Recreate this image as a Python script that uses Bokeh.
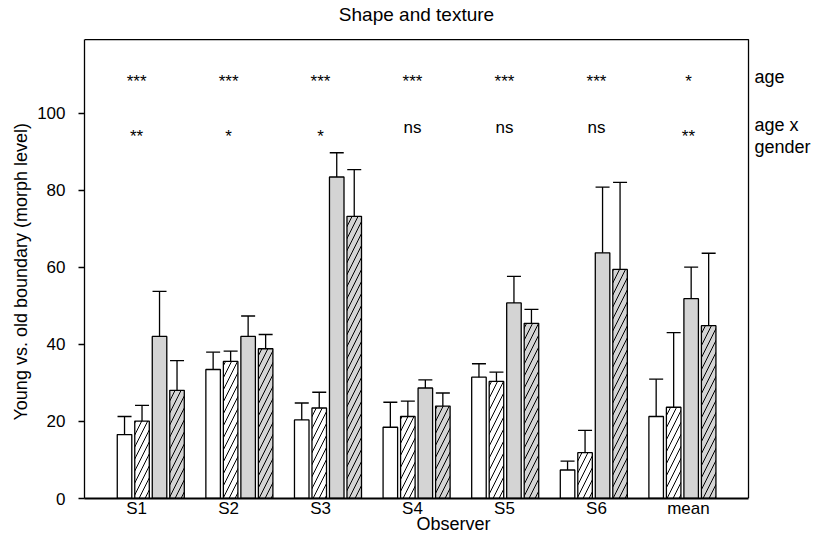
import numpy as np
from bokeh.plotting import figure
from bokeh.models import Range1d, FixedTicker, ColumnDataSource, Title
from bokeh.core.properties import value
from bokeh.embed import file_html
from bokeh.resources import INLINE

# ---------------- data ----------------
observers = ["S1", "S2", "S3", "S4", "S5", "S6", "mean"]

open_mean = [16.6, 33.5, 20.4, 18.5, 31.5, 7.4, 21.3]
open_err = [4.7, 4.5, 4.4, 6.5, 3.5, 2.3, 9.7]

open_hatch_mean = [20.1, 35.6, 23.5, 21.3, 30.4, 11.9, 23.7]
open_hatch_err = [4.1, 2.7, 4.1, 4.0, 2.4, 5.8, 19.4]

grey_mean = [42.1, 42.1, 83.5, 28.7, 50.8, 63.8, 51.9]
grey_err = [11.7, 5.3, 6.3, 2.1, 6.9, 17.1, 8.2]

grey_hatch_mean = [28.1, 38.9, 73.3, 24.0, 45.5, 59.5, 44.9]
grey_hatch_err = [7.7, 3.7, 12.1, 3.4, 3.6, 22.6, 18.8]

age_sig = ["***", "***", "***", "***", "***", "***", "*"]
age_gender_sig = ["**", "*", "*", "ns", "ns", "ns", "**"]
side_labels = ["age", "age x", "gender"]
title_text = "Shape and texture"
y_label = "Young vs. old boundary (morph level)"
x_label = "Observer"

y_ticks = [0, 20, 40, 60, 80, 100]

# ---------------- layout / style ----------------
FONT = "Liberation Sans"
GREY = "#d4d4d4"
n = len(observers)
group_pos = np.arange(1, n + 1, dtype=float)
BAR_W = 0.164
CAP_W = 0.158
STEP = 0.1975
offsets = np.array([-1.5, -0.5, 0.5, 1.5]) * STEP
label_pos = [round(0.84 + 1.038 * i, 4) for i in range(n)]

X0, X1 = 0.252, 7.746      # visible box in x
Y1 = 119.2                 # visible box top
X_END = 8.581              # frame extends to canvas edges (room for texts)
Y_END = 129.35

p = figure(width=822, height=544,
           x_range=Range1d(X0, X_END), y_range=Range1d(0, Y_END),
           output_backend="svg", toolbar_location=None,
           min_border_left=84, min_border_right=0,
           min_border_top=0, min_border_bottom=46)
p.grid.visible = False
p.outline_line_color = None
p.background_fill_color = "white"
p.border_fill_color = "white"

series = [
    (open_mean, open_err, "white", None),
    (open_hatch_mean, open_hatch_err, "white", "/"),
    (grey_mean, grey_err, GREY, None),
    (grey_hatch_mean, grey_hatch_err, GREY, "/"),
]

for k, (m, e, fill, hatch) in enumerate(series):
    xs = group_pos + offsets[k]
    m = np.array(m)
    etop = m + np.array(e)
    src = ColumnDataSource(dict(x=xs, top=m, etop=etop,
                                x0=xs - CAP_W / 2, x1=xs + CAP_W / 2))
    kw = dict(x="x", top="top", bottom=0, width=BAR_W, source=src,
              fill_color=fill, line_color="black", line_width=1.3)
    if hatch:
        kw.update(hatch_pattern=hatch, hatch_color="black",
                  hatch_weight=1.0, hatch_scale=12)
    p.vbar(**kw)
    p.segment(x0="x", y0="top", x1="x", y1="etop", source=src,
              line_color="black", line_width=1.3)
    p.segment(x0="x0", y0="etop", x1="x1", y1="etop", source=src,
              line_color="black", line_width=1.3)

# box: top and right edges
p.line(x=[X0, X1, X1], y=[Y1, Y1, 0], line_color="black", line_width=1.3)

# title
p.text(x=[(X0 + X1) / 2], y=[125.7], text=[title_text],
       text_font=value(FONT), text_font_size="19px",
       text_align="center", text_baseline="middle", text_color="black")

# significance annotations
p.text(x=label_pos, y=[108.3] * n, text=age_sig,
       text_font=value(FONT), text_font_size="17px",
       text_align="center", text_baseline="alphabetic", text_color="black")
row2_y = [96.4 if s == "ns" else 93.9 for s in age_gender_sig]
p.text(x=label_pos, y=row2_y, text=age_gender_sig,
       text_font=value(FONT), text_font_size="17px",
       text_align="center", text_baseline="alphabetic", text_color="black")

p.text(x=[X1 + 0.068] * 3, y=[109.4, 97.1, 91.3], text=side_labels,
       text_font=value(FONT), text_font_size="18px",
       text_align="left", text_baseline="alphabetic", text_color="black")

# axes
p.yaxis.ticker = FixedTicker(ticks=y_ticks)
p.yaxis.major_tick_out = 6
p.yaxis.major_tick_in = 0
p.yaxis.minor_tick_out = 0
p.yaxis.minor_tick_in = 0
p.yaxis.axis_line_width = 1.3
p.yaxis.major_tick_line_width = 1.3
p.yaxis.major_label_standoff = 13
p.yaxis.major_label_text_font = FONT
p.yaxis.major_label_text_font_size = "17px"
p.yaxis.major_label_text_color = "black"
p.yaxis.bounds = (0, Y1)

# y-axis label, centred on the visible box (not on the taller frame)
p.add_layout(Title(text=y_label, align="left", offset=78, standoff=8,
                   text_font=FONT, text_font_size="18px",
                   text_font_style="normal", text_color="black"), "left")

p.xaxis.ticker = FixedTicker(ticks=label_pos)
p.xaxis.major_label_overrides = {float(t): o for t, o in zip(label_pos, observers)}
p.xaxis.major_tick_out = 0
p.xaxis.major_tick_in = 0
p.xaxis.minor_tick_out = 0
p.xaxis.minor_tick_in = 0
p.xaxis.axis_line_width = 2
p.xaxis.bounds = (X0, X1)
p.xaxis.major_label_standoff = 0
p.xaxis.major_label_text_font = FONT
p.xaxis.major_label_text_font_size = "17px"
p.xaxis.major_label_text_color = "black"
p.xaxis.axis_label = x_label
p.xaxis.axis_label_text_font = FONT
p.xaxis.axis_label_text_font_size = "18px"
p.xaxis.axis_label_text_font_style = "normal"
p.xaxis.axis_label_text_color = "black"
p.xaxis.axis_label_standoff = -7

open("out.html", "w").write(file_html(p, INLINE))
